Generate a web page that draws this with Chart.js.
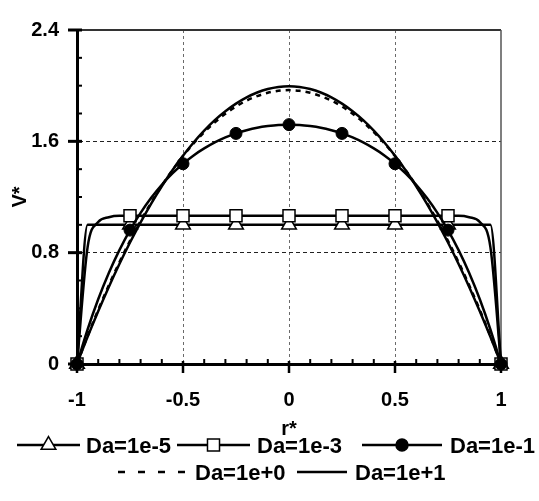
<!DOCTYPE html>
<html>
<head>
<meta charset="utf-8">
<script src="https://cdn.jsdelivr.net/npm/chart.js@4/dist/chart.umd.min.js"></script>
<style>
  html, body { margin: 0; padding: 0; background: #fff; }
  #c { display: block; }
</style>
</head>
<body>
<canvas id="c" width="539" height="501"></canvas>
<script>
// ---------- data ----------
const rValues = [-1, -0.95, -0.9, -0.85, -0.8, -0.75, -0.7, -0.65, -0.6, -0.55, -0.5, -0.45, -0.4, -0.35, -0.3, -0.25, -0.2, -0.15, -0.1, -0.05,
  0, 0.05, 0.1, 0.15, 0.2, 0.25, 0.3, 0.35, 0.4, 0.45, 0.5, 0.55, 0.6, 0.65, 0.7, 0.75, 0.8, 0.85, 0.9, 0.95, 1];

const seriesLabels = ['Da=1e-5', 'Da=1e-3', 'Da=1e-1', 'Da=1e+0', 'Da=1e+1'];

const vDa1e5 = [0, 1.0, 1.0, 1.0, 1.0, 1.0, 1.0, 1.0, 1.0, 1.0, 1.0, 1.0, 1.0, 1.0, 1.0, 1.0, 1.0, 1.0, 1.0, 1.0,
  1.0, 1.0, 1.0, 1.0, 1.0, 1.0, 1.0, 1.0, 1.0, 1.0, 1.0, 1.0, 1.0, 1.0, 1.0, 1.0, 1.0, 1.0, 1.0, 1.0, 0];

const vDa1e3 = [0, 0.84, 1.02, 1.055, 1.065, 1.065, 1.065, 1.065, 1.065, 1.065, 1.065, 1.065, 1.065, 1.065, 1.065, 1.065, 1.065, 1.065, 1.065, 1.065,
  1.065, 1.065, 1.065, 1.065, 1.065, 1.065, 1.065, 1.065, 1.065, 1.065, 1.065, 1.065, 1.065, 1.065, 1.065, 1.065, 1.065, 1.055, 1.02, 0.84, 0];

const vDa1e_1 = [0, 0.248, 0.465, 0.654, 0.818, 0.962, 1.086, 1.194, 1.288, 1.369, 1.439, 1.499, 1.549, 1.592, 1.628, 1.657, 1.680, 1.698, 1.710, 1.718,
  1.720, 1.718, 1.710, 1.698, 1.680, 1.657, 1.628, 1.592, 1.549, 1.499, 1.439, 1.369, 1.288, 1.194, 1.086, 0.962, 0.818, 0.654, 0.465, 0.248, 0];

const vDa1e0 = [0, 0.201, 0.389, 0.566, 0.731, 0.885, 1.028, 1.160, 1.282, 1.393, 1.494, 1.585, 1.666, 1.737, 1.798, 1.850, 1.893, 1.925, 1.949, 1.963,
  1.968, 1.963, 1.949, 1.925, 1.893, 1.850, 1.798, 1.737, 1.666, 1.585, 1.494, 1.393, 1.282, 1.160, 1.028, 0.885, 0.731, 0.566, 0.389, 0.201, 0];

const vDa1e1 = [0, 0.195, 0.379, 0.554, 0.719, 0.873, 1.018, 1.153, 1.277, 1.392, 1.497, 1.592, 1.677, 1.752, 1.816, 1.871, 1.916, 1.951, 1.976, 1.991,
  1.996, 1.991, 1.976, 1.951, 1.916, 1.871, 1.816, 1.752, 1.677, 1.592, 1.497, 1.392, 1.277, 1.153, 1.018, 0.873, 0.719, 0.554, 0.379, 0.195, 0];

const xTickValues = [-1, -0.5, 0, 0.5, 1];
const xTickLabels = ['-1', '-0.5', '0', '0.5', '1'];
const yTickValues = [0, 0.8, 1.6, 2.4];
const yTickLabels = ['0', '0.8', '1.6', '2.4'];
const xMinorValues = [-0.9, -0.8, -0.7, -0.6, -0.4, -0.3, -0.2, -0.1, 0.1, 0.2, 0.3, 0.4, 0.6, 0.7, 0.8, 0.9];
const yMinorValues = [0.2, 0.4, 0.6, 1.0, 1.2, 1.4, 1.8, 2.0, 2.2];
const markerValues = [-1, -0.75, -0.5, -0.25, 0, 0.25, 0.5, 0.75, 1];

const xTitle = 'r*';
const yTitle = 'V*';

// ---------- helpers ----------
const FONT = '"Liberation Sans", Arial, Helvetica, sans-serif';
const toXY = vals => rValues.map((r, i) => ({ x: r, y: vals[i] }));
const markerAt = rad => ctx => (markerValues.includes(rValues[ctx.dataIndex]) ? rad : 0);

function drawMarker(ctx, style, x, y, r, fill) {
  ctx.save();
  ctx.fillStyle = fill;
  ctx.strokeStyle = '#000';
  ctx.lineWidth = 1.5;
  ctx.setLineDash([]);
  ctx.beginPath();
  if (style === 'triangle') {
    ctx.moveTo(x, y - r);
    ctx.lineTo(x + 0.866 * r, y + 0.5 * r);
    ctx.lineTo(x - 0.866 * r, y + 0.5 * r);
    ctx.closePath();
  } else if (style === 'rect') {
    const s = r * Math.SQRT1_2;
    ctx.rect(x - s, y - s, 2 * s, 2 * s);
  } else if (style === 'circle') {
    ctx.arc(x, y, r, 0, Math.PI * 2);
  }
  ctx.fill();
  ctx.stroke();
  ctx.restore();
}

// ---------- plugins ----------
const frameAndTicks = {
  id: 'frameAndTicks',
  beforeDatasetsDraw(chart) {
    const { ctx, chartArea: a } = chart;
    ctx.save();
    ctx.setLineDash([]);
    ctx.strokeStyle = '#333';
    ctx.lineWidth = 2;
    ctx.beginPath(); ctx.moveTo(a.left, a.top); ctx.lineTo(a.right, a.top); ctx.stroke();
    ctx.strokeStyle = '#555';
    ctx.lineWidth = 1.5;
    ctx.beginPath(); ctx.moveTo(a.right, a.top); ctx.lineTo(a.right, a.bottom); ctx.stroke();
    ctx.restore();
  },
  afterDraw(chart) {
    const { ctx, chartArea: a, scales: { x, y } } = chart;
    ctx.save();
    ctx.setLineDash([]);
    ctx.strokeStyle = '#000';
    const seg = (x1, y1, x2, y2) => { ctx.beginPath(); ctx.moveTo(x1, y1); ctx.lineTo(x2, y2); ctx.stroke(); };
    ctx.lineWidth = 2.5;
    xTickValues.forEach(v => { const p = x.getPixelForValue(v); seg(p, a.bottom - 3, p, a.bottom + 9); });
    ctx.lineWidth = 2;
    xMinorValues.forEach(v => { const p = x.getPixelForValue(v); seg(p, a.bottom - 5, p, a.bottom); });
    ctx.lineWidth = 3;
    yTickValues.forEach(v => { const p = y.getPixelForValue(v); seg(a.left - 9, p, a.left + 5, p); });
    ctx.lineWidth = 2;
    yMinorValues.forEach(v => { const p = y.getPixelForValue(v); seg(a.left, p, a.left + 5, p); });
    ctx.restore();
  }
};

// legend layout (positions only): sample start, sample end, text start, baseline
const legendSlots = [
  [17, 80, 86, 453],
  [177, 250, 257, 453],
  [362, 442, 450, 453],
  [118, 187, 195, 480],
  [297, 347, 355, 480]
];

const bottomLegend = {
  id: 'bottomLegend',
  afterDraw(chart) {
    const ctx = chart.ctx;
    const dss = chart.data.datasets;
    ctx.save();
    ctx.font = 'bold 22px ' + FONT;
    ctx.textBaseline = 'alphabetic';
    ctx.textAlign = 'left';
    dss.forEach((ds, i) => {
      const [s0, s1, tx, yb] = legendSlots[i];
      const ym = yb - 8;
      ctx.save();
      ctx.strokeStyle = '#000';
      ctx.lineWidth = ds.borderWidth;
      ctx.setLineDash(ds.borderDash ? [7, 13] : []);
      ctx.beginPath(); ctx.moveTo(s0, ym); ctx.lineTo(s1, ym); ctx.stroke();
      ctx.restore();
      if (ds.legendMarker) {
        drawMarker(ctx, ds.pointStyle, (s0 + s1) / 2, ym, ds.legendMarker, ds.pointBackgroundColor);
      }
      ctx.fillStyle = '#000';
      ctx.fillText(ds.label, tx, yb);
    });
    ctx.restore();
  }
};

// ---------- chart ----------
const tickFont = { family: FONT, size: 20, weight: 'bold' };

new Chart(document.getElementById('c'), {
  type: 'line',
  data: {
    datasets: [
      { label: seriesLabels[0], data: toXY(vDa1e5), borderColor: '#000', borderWidth: 2.5,
        pointStyle: 'triangle', pointRadius: markerAt(8.5), pointBackgroundColor: '#fff',
        pointBorderColor: '#000', pointBorderWidth: 1.5, legendMarker: 8.5, order: 5 },
      { label: seriesLabels[1], data: toXY(vDa1e3), borderColor: '#000', borderWidth: 2.5,
        pointStyle: 'rect', pointRadius: markerAt(8.5), pointBackgroundColor: '#fff',
        pointBorderColor: '#000', pointBorderWidth: 1.5, legendMarker: 8.5, order: 4 },
      { label: seriesLabels[2], data: toXY(vDa1e_1), borderColor: '#000', borderWidth: 2.5,
        pointStyle: 'circle', pointRadius: markerAt(6), pointBackgroundColor: '#000',
        pointBorderColor: '#000', pointBorderWidth: 1, legendMarker: 6, order: 3 },
      { label: seriesLabels[3], data: toXY(vDa1e0), borderColor: '#000', borderWidth: 2.5,
        borderDash: [5, 5], pointRadius: 0, order: 2 },
      { label: seriesLabels[4], data: toXY(vDa1e1), borderColor: '#000', borderWidth: 2.5,
        pointRadius: 0, order: 1 }
    ]
  },
  options: {
    responsive: false,
    animation: false,
    devicePixelRatio: 1,
    events: [],
    clip: false,
    datasets: { line: { cubicInterpolationMode: 'monotone', clip: false, fill: false } },
    layout: { padding: { left: 0, right: 38, top: 24, bottom: 60 } },
    plugins: { legend: { display: false }, tooltip: { enabled: false } },
    scales: {
      x: {
        type: 'linear', min: -1, max: 1,
        afterBuildTicks: s => { s.ticks = xTickValues.map(v => ({ value: v })); },
        afterFit: s => { s.height = 77; },
        ticks: { callback: (v, i) => xTickLabels[i], padding: 24, color: '#000', font: tickFont, maxRotation: 0, autoSkip: false },
        grid: {
          drawTicks: false, lineWidth: 1,
          color: c => (c.tick && Math.abs(c.tick.value) < 0.99 ? '#6a6a6a' : 'rgba(0,0,0,0)')
        },
        border: { display: true, color: '#000', width: 3, dash: [3, 3] },
        title: { display: true, text: xTitle, color: '#000', font: tickFont, padding: { top: 0, bottom: 0 } }
      },
      y: {
        type: 'linear', min: 0, max: 2.4,
        afterBuildTicks: s => { s.ticks = yTickValues.map(v => ({ value: v })); },
        afterFit: s => { s.width = 77; },
        ticks: { callback: (v, i) => yTickLabels[i], padding: 18, color: '#000', font: tickFont, autoSkip: false },
        grid: {
          drawTicks: false, lineWidth: 1,
          color: c => (c.tick && c.tick.value > 0.01 && c.tick.value < 2.39 ? '#222' : 'rgba(0,0,0,0)')
        },
        border: { display: true, color: '#000', width: 3, dash: [4, 3] },
        title: { display: true, text: yTitle, color: '#000', font: tickFont, padding: { top: 8, bottom: 0 } }
      }
    }
  },
  plugins: [frameAndTicks, bottomLegend]
});
</script>
</body>
</html>
